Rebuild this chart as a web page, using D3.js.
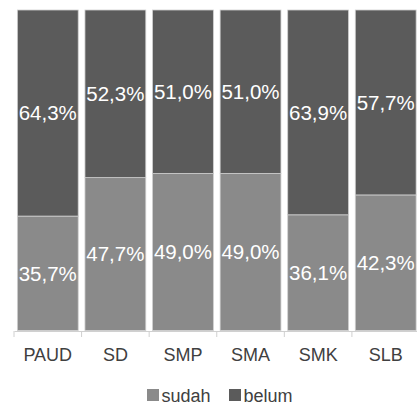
<!DOCTYPE html>
<html><head><meta charset="utf-8">
<script src="https://cdn.jsdelivr.net/npm/d3@7"></script>
<style>body{margin:0;background:#fff}svg{display:block}</style>
</head><body>
<script>
const categories = ["PAUD","SD","SMP","SMA","SMK","SLB"];
const sudah = [35.7, 47.7, 49.0, 49.0, 36.1, 42.3];
const belum = [64.3, 52.3, 51.0, 51.0, 63.9, 57.7];
const seriesNames = ["sudah","belum"];
const colors = {sudah:"#8a8a8a", belum:"#5b5b5b"};

const W = 417, H = 406;
const mLeft = 14, mRight = 419.5, mTop = 10, mBottom = 330.5;
const svg = d3.select("body").append("svg").attr("width", W).attr("height", H);

const rows = categories.map((c,i)=>({cat:c, sudah:sudah[i], belum:belum[i]}));
const layers = d3.stack().keys(seriesNames)(rows);

const x = d3.scaleBand().domain(categories).range([mLeft, mRight]).paddingInner(0.1).paddingOuter(0.05);
const y = d3.scaleLinear().domain([0,100]).range([mBottom, mTop]);
const fmt = v => v.toFixed(1).replace(".", ",") + "%";

const g = svg.append("g");
layers.forEach(layer => {
  const key = layer.key;
  g.selectAll(".b-"+key).data(layer).enter().append("rect")
    .attr("x", d => x(d.data.cat))
    .attr("width", x.bandwidth())
    .attr("y", d => y(d[1]))
    .attr("height", d => y(d[0]) - y(d[1]))
    .attr("fill", colors[key])
    .attr("stroke", "#cfcfcf").attr("stroke-width", 0.8);
});
layers.forEach(layer => {
  const key = layer.key;
  g.selectAll(".t-"+key).data(layer).enter().append("text")
    .attr("x", d => x(d.data.cat) + x.bandwidth()/2)
    .attr("y", d => (y(d[0]) + y(d[1]))/2)
    .attr("dy", "0.36em")
    .attr("text-anchor", "middle")
    .attr("font-family", "Liberation Sans, Arial, sans-serif")
    .attr("font-size", 20.5)
    .attr("fill", "#fff")
    .text(d => fmt(d.data[key]));
});

// x axis
const xAxisScale = d3.scaleBand().domain(categories).range([mLeft, mRight]);
const ax = svg.append("g").attr("transform", `translate(0,${mBottom+0.5})`)
  .call(d3.axisBottom(xAxisScale).tickSize(0).tickPadding(0));
ax.select(".domain").attr("stroke", "#d0d0d0");
ax.selectAll(".tick text").attr("y", 30).attr("dy", 0)
  .attr("font-family", "Liberation Sans, Arial, sans-serif")
  .attr("font-size", 18).attr("fill", "#404040");
const bounds = categories.map(c => xAxisScale(c)).concat([mRight]);
ax.selectAll(".bt").data(bounds).enter().append("line")
  .attr("x1", d => d).attr("x2", d => d).attr("y1", 0).attr("y2", 6)
  .attr("stroke", "#d0d0d0");

// legend
const legend = svg.append("g").attr("font-family", "Liberation Sans, Arial, sans-serif").attr("font-size", 18).attr("fill", "#404040");
const legX = [147, 229];
seriesNames.forEach((s,i) => {
  legend.append("rect").attr("x", legX[i]).attr("y", 389).attr("width", 12).attr("height", 12).attr("fill", colors[s]);
  legend.append("text").attr("x", legX[i] + 14.5).attr("y", 401.5).text(s);
});
</script>
</body></html>
